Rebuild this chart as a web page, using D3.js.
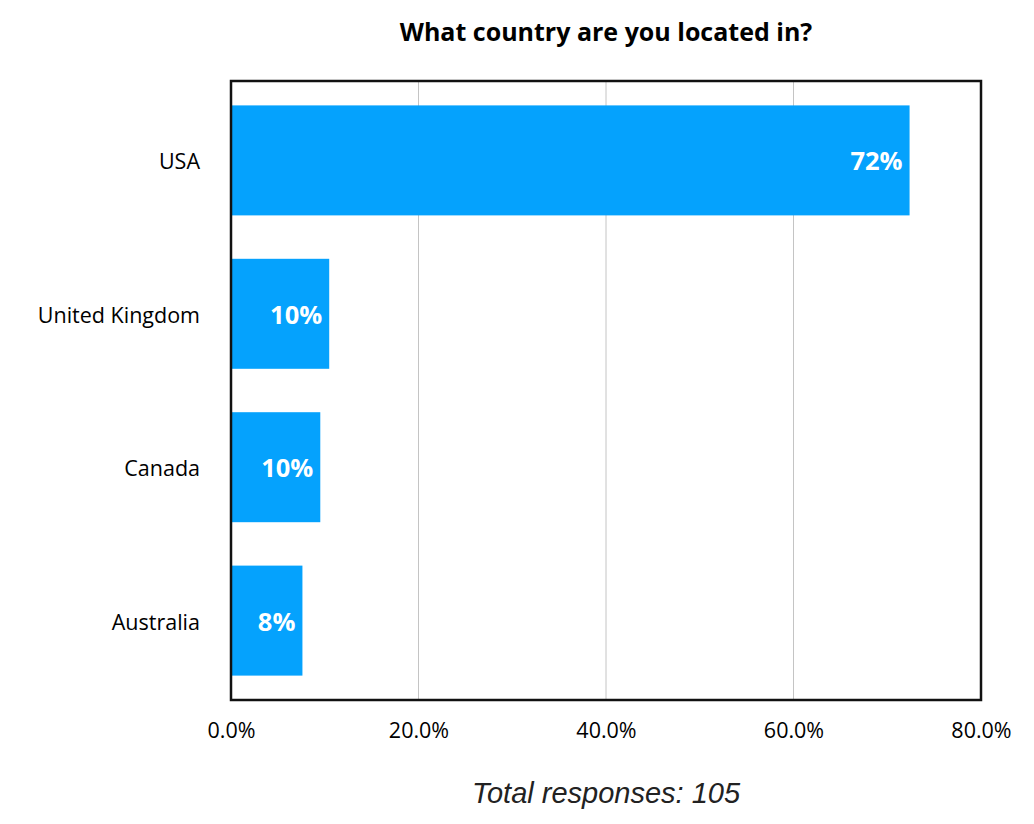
<!DOCTYPE html>
<html><head><meta charset="utf-8">
<script src="https://cdn.jsdelivr.net/npm/d3@7"></script>
<style>body{margin:0;background:#fff}</style>
</head><body>
<svg id="c" width="1034" height="824"></svg>
<script>
const categories = ["USA", "United Kingdom", "Canada", "Australia"];
const counts = [76, 11, 10, 8];
const totalResponses = 105;
const tickValues = [0, 20, 40, 60, 80];
const title = "What country are you located in?";

const values = counts.map(c => c / totalResponses * 100);
const svg = d3.select("#c");
const m = {left: 231, right: 981, top: 81, bottom: 700};
const x = d3.scaleLinear().domain([0, 80]).range([m.left, m.right]);
const y = d3.scaleBand().domain(categories).range([m.top, m.bottom]).paddingInner(0.283).paddingOuter(0.159);
const font = "'Open Sans', 'Noto Sans', sans-serif";

// gridlines
svg.append("g").selectAll("line").data(tickValues.slice(1, -1)).join("line")
  .attr("x1", d => x(d)).attr("x2", d => x(d)).attr("y1", m.top).attr("y2", m.bottom)
  .attr("stroke", "#c4c4c4").attr("stroke-width", 1);

// bars
svg.append("g").selectAll("rect").data(categories).join("rect")
  .attr("x", x(0)).attr("y", d => y(d))
  .attr("width", (d, i) => x(values[i]) - x(0)).attr("height", y.bandwidth())
  .attr("fill", "#05a2fd");

// value labels
svg.append("g").selectAll("text").data(categories).join("text")
  .attr("x", (d, i) => x(values[i]) - 7).attr("y", d => y(d) + y.bandwidth() / 2 + 1)
  .attr("dy", "0.35em").attr("text-anchor", "end")
  .attr("fill", "#fff").attr("font-family", font).attr("font-weight", "bold").attr("font-size", 25.5)
  .text((d, i) => Math.round(values[i]) + "%");

// frame
svg.append("rect").attr("x", m.left).attr("y", m.top)
  .attr("width", m.right - m.left).attr("height", m.bottom - m.top)
  .attr("fill", "none").attr("stroke", "#111").attr("stroke-width", 2.5);

// y axis labels
const ya = svg.append("g").attr("transform", `translate(${m.left},2)`)
  .call(d3.axisLeft(y).tickSize(0).tickPadding(31));
ya.select(".domain").remove();
ya.selectAll("text").attr("font-family", font).attr("font-size", 21.5).attr("fill", "#000");

// x axis labels
const xa = svg.append("g").attr("transform", `translate(0,${m.bottom + 2})`)
  .call(d3.axisBottom(x).tickValues(tickValues).tickSize(0).tickPadding(21).tickFormat(d => d.toFixed(1) + "%"));
xa.select(".domain").remove();
xa.selectAll("text").attr("font-family", font).attr("font-size", 21.5).attr("fill", "#000");

// title
svg.append("text").attr("x", (m.left + m.right) / 2).attr("y", 41)
  .attr("text-anchor", "middle").attr("font-family", font).attr("font-weight", "bold")
  .attr("font-size", 25).attr("fill", "#000").text(title);

// footer
svg.append("text").attr("x", (m.left + m.right) / 2).attr("y", 803)
  .attr("text-anchor", "middle").attr("font-family", "'Liberation Sans', Arial, sans-serif")
  .attr("font-style", "italic").attr("font-size", 29).attr("fill", "#222")
  .text("Total responses: " + totalResponses);
</script>
</body></html>
